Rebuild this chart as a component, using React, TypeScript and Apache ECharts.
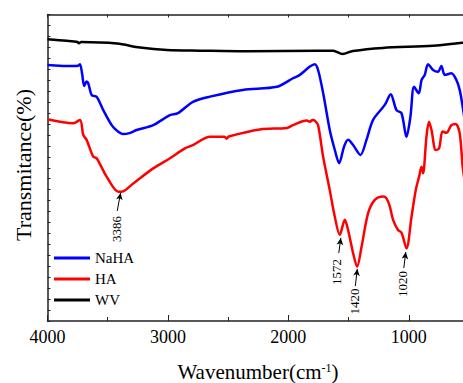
import React, { useEffect, useRef } from "react";
import * as echarts from "echarts";

// wavenumber (cm-1), transmittance (arb. %)
const nahaWave = [4000, 3900, 3800, 3745, 3730, 3712, 3695, 3675, 3661, 3633, 3592, 3537, 3467, 3420, 3371, 3320, 3260, 3122, 2983, 2917, 2792, 2651, 2378, 2095, 1962, 1904, 1821, 1780, 1753, 1711, 1656, 1614, 1578, 1537, 1504, 1462, 1401, 1351, 1296, 1199, 1150, 1102, 1060, 1019, 986, 956, 917, 894, 867, 840, 798, 757, 729, 701, 646, 604, 577, 552, 530];
const nahaVal = [83.5, 83.3, 83.2, 83.3, 83.8, 80.5, 76.7, 78.1, 77.5, 73.7, 73.2, 68.8, 63.9, 62.0, 61.0, 61.3, 62.3, 63.9, 67.2, 67.8, 71.5, 73.2, 75.4, 76.4, 79.2, 80.3, 83.0, 83.8, 81.9, 74.4, 62.3, 55.8, 51.5, 56.9, 59.1, 57.4, 54.2, 59.1, 65.6, 70.5, 74.0, 68.8, 67.8, 60.1, 66.7, 76.4, 74.3, 78.6, 80.3, 83.8, 81.9, 81.3, 83.2, 80.3, 80.8, 78.6, 75.4, 69.9, 64.0];

const haWave = [4000, 3786, 3730, 3703, 3675, 3620, 3592, 3509, 3412, 3384, 3288, 3122, 2983, 2859, 2792, 2651, 2530, 2513, 2495, 2236, 2012, 1962, 1849, 1821, 1800, 1780, 1753, 1711, 1656, 1614, 1573, 1531, 1504, 1462, 1429, 1392, 1338, 1282, 1213, 1185, 1158, 1130, 1089, 1060, 1019, 977, 942, 914, 894, 881, 853, 832, 811, 776, 748, 720, 687, 646, 610, 577, 552, 530];
const haVal = [65.8, 64.5, 65.6, 60.7, 59.1, 53.6, 53.1, 47.1, 42.2, 42.2, 44.9, 49.8, 53.1, 56.3, 57.4, 60.1, 60.1, 59.5, 60.2, 62.5, 63.0, 63.9, 65.4, 65.0, 65.6, 65.4, 63.9, 53.6, 42.7, 34.0, 28.1, 33.0, 29.7, 22.1, 17.7, 24.2, 35.1, 39.5, 40.6, 40.0, 37.5, 33.0, 29.7, 28.8, 23.7, 34.0, 42.7, 47.1, 50.3, 48.2, 60.1, 65.0, 62.3, 55.8, 56.3, 61.8, 61.4, 63.9, 64.3, 61.2, 50.3, 44.0];

const wvWave = [4000, 3841, 3750, 3740, 3720, 3423, 3232, 3008, 2734, 2320, 1764, 1627, 1550, 1464, 1216, 800, 552, 520];
const wvVal = [91.9, 91.4, 91.0, 90.6, 91.0, 90.5, 89.2, 88.4, 88.2, 88.0, 88.2, 88.2, 87.1, 88.1, 89.1, 89.8, 90.8, 91.0];

const xTickLabels = ["4000", "3000", "2000", "1000"];

// peak annotations: label, text anchor (wavenumber, value), arrow start, arrow tip
const peakLabels = ["3386", "1572", "1420", "1020"];
const peakTextPos = [[3423, 30.0], [1597, 16.0], [1448, 6.4], [1050, 12.1]];
const arrowFrom = [[3421, 35.9], [1581, 22.2], [1444, 11.4], [1041, 17.3]];
const arrowTo = [[3393, 41.8], [1564, 27.1], [1427, 17.0], [1025, 22.5]];

const W0 = 4000;
const toX = (w: number) => W0 - w;
const pairs = (ws: number[], vs: number[]) => ws.map((w, i) => [toX(w), vs[i]]);

const FONT = "Liberation Serif";

export default function App() {
  const ref = useRef<HTMLDivElement>(null);
  useEffect(() => {
    if (!ref.current) return;
    const chart = echarts.init(ref.current, undefined, { renderer: "svg" });
    const axisColor = "#222";
    const xCommon = {
      type: "value" as const,
      min: 0,
      max: 3600,
      interval: 1000,
      splitLine: { show: false },
      axisLine: { show: true, lineStyle: { color: axisColor, width: 1.5 } },
    };
    chart.setOption({
      animation: false,
      backgroundColor: "#fff",
      textStyle: { fontFamily: FONT },
      grid: { left: 47.5, top: 14.5, width: 433.5, height: 306.5, outerBoundsMode: "none", containLabel: false },
      legend: {
        data: ["NaHA", "HA", "WV"],
        orient: "vertical",
        left: 54,
        top: 250.5,
        padding: 0,
        icon: "rect",
        itemWidth: 36,
        itemHeight: 3,
        itemGap: 6,
        textStyle: { fontFamily: FONT, fontSize: 15, lineHeight: 15, color: "#000" },
      },
      xAxis: [
        {
          ...xCommon,
          position: "bottom",
          axisTick: { show: true, inside: true, length: 6, lineStyle: { color: axisColor } },
          minorTick: { show: true, splitNumber: 2, length: 4, lineStyle: { color: axisColor } },
          axisLabel: {
            fontFamily: FONT,
            fontSize: 18,
            color: "#000",
            margin: 7,
            formatter: (v: number) => {
              const s = String(W0 - v);
              return xTickLabels.indexOf(s) >= 0 && v % 1000 === 0 ? s : "";
            },
          },
        },
        {
          ...xCommon,
          position: "top",
          axisTick: { show: true, inside: true, length: 3, lineStyle: { color: axisColor } },
          minorTick: { show: true, splitNumber: 2, length: 3, lineStyle: { color: axisColor } },
          axisLabel: { show: false },
        },
      ],
      yAxis: {
        type: "value",
        min: 0,
        max: 100,
        interval: 25,
        splitLine: { show: false },
        axisLine: { show: true, lineStyle: { color: axisColor, width: 1.5 } },
        axisTick: { show: true, inside: true, length: 3, lineStyle: { color: axisColor } },
        minorTick: { show: true, splitNumber: 7, length: 3, lineStyle: { color: axisColor } },
        axisLabel: { show: false },
      },
      graphic: [
        {
          type: "text",
          x: 258,
          y: 372,
          style: {
            text: "{n|Wavenumber(cm}{sup|-1}{n|)}",
            fontFamily: FONT,
            fontSize: 21,
            fill: "#000",
            align: "center",
            verticalAlign: "middle",
            rich: {
              n: { fontFamily: FONT, fontSize: 21, lineHeight: 21, fill: "#000", verticalAlign: "bottom" },
              sup: { fontFamily: FONT, fontSize: 12, lineHeight: 21, fill: "#000", verticalAlign: "top" },
            },
          },
        },
        {
          type: "text",
          x: 23,
          y: 165,
          rotation: Math.PI / 2,
          style: {
            text: "Transmitance(%)",
            fontFamily: FONT,
            fontSize: 22,
            fill: "#000",
            align: "center",
            verticalAlign: "middle",
          },
        },
      ],
      series: [
        {
          name: "NaHA",
          type: "line",
          data: pairs(nahaWave, nahaVal),
          showSymbol: false,
          symbol: "none",
          smooth: 0.3,
          lineStyle: { color: "#0000ff", width: 2.5 },
          itemStyle: { color: "#0000ff" },
        },
        {
          name: "HA",
          type: "line",
          data: pairs(haWave, haVal),
          showSymbol: false,
          symbol: "none",
          smooth: 0.3,
          lineStyle: { color: "#ff0000", width: 2.5 },
          itemStyle: { color: "#ff0000" },
          markPoint: {
            silent: true,
            symbol: "circle",
            symbolSize: 1,
            itemStyle: { color: "rgba(0,0,0,0)" },
            label: {
              show: true,
              position: "inside",
              rotate: 90,
              fontFamily: FONT,
              fontSize: 13,
              color: "#000",
              formatter: (p: any) => p.name,
            },
            data: peakLabels.map((n, i) => ({
              name: n,
              coord: [toX(peakTextPos[i][0]), peakTextPos[i][1]],
            })),
          },
          markLine: {
            silent: true,
            symbol: ["none", "arrow"],
            symbolSize: [5, 7],
            lineStyle: { color: "#000", width: 1, type: "solid" },
            label: { show: false },
            data: arrowFrom.map((f, i) => [
              { coord: [toX(f[0]), f[1]] },
              { coord: [toX(arrowTo[i][0]), arrowTo[i][1]] },
            ]),
          },
        },
        {
          name: "WV",
          type: "line",
          data: pairs(wvWave, wvVal),
          showSymbol: false,
          symbol: "none",
          smooth: 0.3,
          lineStyle: { color: "#000000", width: 2.5 },
          itemStyle: { color: "#000000" },
        },
      ],
    });
    return () => chart.dispose();
  }, []);
  return (
    <div
      ref={ref}
      style={{ position: "fixed", left: 0, top: 0, width: 463, height: 383, background: "#fff" }}
    />
  );
}
